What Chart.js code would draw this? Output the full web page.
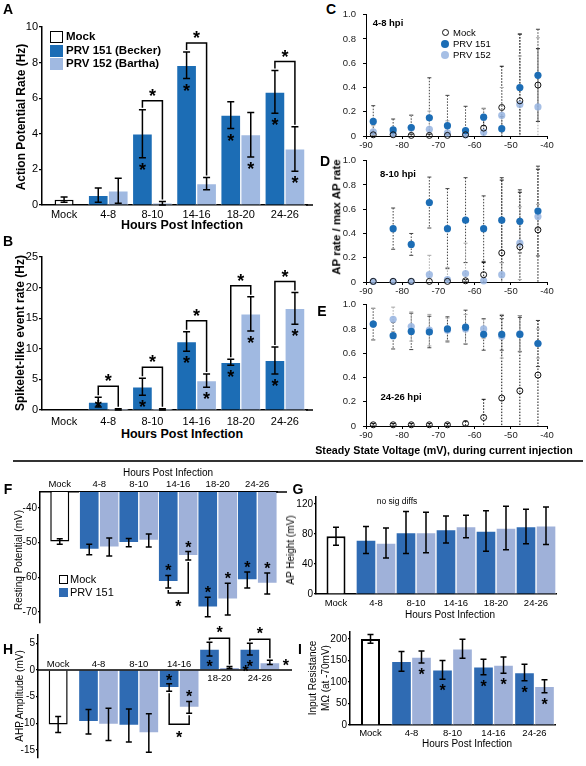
<!DOCTYPE html>
<html>
<head>
<meta charset="utf-8">
<script src="https://cdn.jsdelivr.net/npm/chart.js@4.4.1/dist/chart.umd.min.js"></script>
<style>
  body { margin: 0; background: #fff; }
  #fig { position: relative; width: 586px; height: 766px; overflow: hidden; font-family: 'Liberation Sans', Arial, sans-serif; color: #000; }
  #fig canvas { position: absolute; }
  .t { position: absolute; white-space: nowrap; line-height: 1; transform: translate(-50%, -50%); }
  .l { position: absolute; white-space: nowrap; line-height: 1; transform: translate(0, -50%); }
  .r { position: absolute; white-space: nowrap; line-height: 1; transform: translate(-50%, -50%) rotate(-90deg); text-align: center; }
  .sw { position: absolute; box-sizing: border-box; }
</style>
</head>
<body>
<div id="fig"></div>
<script>
// categories
const hpi = ['Mock', '4-8', '8-10', '14-16', '18-20', '24-26'];
const hpiI = ['Mock', '4-8', '8-10', '14-16', '24-26'];

// A: action potential rate (Hz)
const apMock = 0.3, apMockErr = 0.15;
const ap151 = [null, 0.55, 4.0, 7.85, 5.05, 6.35];
const ap151Err = [null, 0.4, 1.35, 0.75, 0.75, 1.2];
const ap152 = [null, 0.8, 0.1, 1.2, 3.95, 3.15];
const ap152Err = [null, 0.7, 0.1, 0.35, 1.25, 1.25];
const apStar151 = [0, 0, 1, 1, 1, 1];
const apStar152 = [0, 0, 0, 0, 1, 1];
const apSig = ['8-10', '14-16', '24-26'];
const apTicks = [0, 2, 4, 6, 8, 10];

// B: spikelet-like event rate (Hz)
const spMock = 0.05, spMockErr = 0;
const sp151 = [null, 1.3, 3.8, 11.2, 7.8, 8.1];
const sp151Err = [null, 0.8, 1.4, 1.6, 0.5, 2.2];
const sp152 = [null, 0.1, 0.1, 4.8, 15.7, 16.6];
const sp152Err = [null, 0.1, 0.1, 1.1, 2.8, 2.6];
const spStar151 = [0, 1, 1, 1, 1, 1];
const spStar152 = [0, 0, 0, 1, 1, 1];
const spSig = ['4-8', '8-10', '14-16', '18-20', '24-26'];
const spTicks = [0, 5, 10, 15, 20, 25];

// C-E: normalised AP rate vs steady state voltage
const volt = [-88, -82.5, -77.5, -72.5, -67.5, -62.5, -57.5, -52.5, -47.5, -42.5];
const voltTicks = [-90, -80, -70, -60, -50, -40];
const rateTicks = [0, 0.2, 0.4, 0.6, 0.8, 1];

const mockC = [0.01, 0.01, 0.005, 0.005, 0.005, 0.01, 0.065, 0.235, 0.29, 0.42];
const mockCErr = [0.01, 0.01, 0.01, 0.01, 0.01, 0.01, 0.1, 0.34, 0.55, 0.3];
const prv151C = [0.12, 0.05, 0.07, 0.15, 0.085, 0.045, 0.155, 0.06, 0.40, 0.50];
const prv151CErr = [0.13, 0.09, 0.1, 0.33, 0.25, 0.2, 0.07, 0.1, 0.44, 0.38];
const prv152C = [0.035, 0.02, 0.065, 0.055, 0.025, 0.01, 0.03, 0.17, 0.26, 0.24];
const prv152CErr = [0.05, 0.03, 0.11, 0.15, 0.1, 0.05, 0.2, 0.23, 0.4, 0.57];

const mockD = [0.005, 0.005, 0.005, 0.005, 0.005, 0.01, 0.06, 0.24, 0.29, 0.43];
const mockDErr = [0, 0, 0, 0, 0.01, 0.01, 0.1, 0.6, 0.45, 0.5];
const prv151D = [null, 0.44, 0.31, 0.655, 0.44, 0.51, 0.44, 0.51, 0.50, 0.585];
const prv151DErr = [null, 0.17, 0.09, 0.21, 0.33, 0.35, 0.27, 0.35, 0.26, 0.37];
const prv152D = [0.005, 0.005, 0.005, 0.06, 0.02, 0.07, 0.01, 0.06, 0.32, 0.54];
const prv152DErr = [0, 0, 0, 0.16, 0.1, 0.25, 0.03, 0.1, 0.3, 0.1];

const mockE = [0.01, 0.01, 0.01, 0.01, 0.01, 0.02, 0.07, 0.23, 0.29, 0.42];
const mockEErr = [0.01, 0.01, 0.01, 0.01, 0.01, 0.02, 0.15, 0.68, 0.62, 0.45];
const prv151E = [0.84, 0.745, 0.78, 0.775, 0.80, 0.815, 0.755, 0.755, 0.755, 0.68];
const prv151EErr = [0.13, 0.11, 0.15, 0.13, 0.1, 0.14, 0.13, 0.13, 0.14, 0.19];
const prv152E = [0.84, 0.88, 0.82, 0.79, 0.79, 0.80, 0.80, 0.74, 0.76, 0.68];
const prv152EErr = [0.13, 0.1, 0.12, 0.13, 0.1, 0.12, 0.08, 0.18, 0.15, 0.12];

// F: resting potential (mV)
const rpMock = -49.7, rpMockErr = 0.8;
const rp151 = [null, -52.0, -50.0, -61.3, -68.6, -60.8];
const rp151Err = [null, 1.5, 1.2, 1.8, 2.8, 2.3];
const rp152 = [null, -51.3, -49.4, -53.8, -66.3, -61.8];
const rp152Err = [null, 2.6, 1.9, 1.2, 4.6, 3.0];
const rpStar151 = [0, 0, 0, 1, 1, 1];
const rpStar152 = [0, 0, 0, 1, 1, 1];
const rpSig = ['14-16'];
const rpTicks = [-70, -60, -50, -40];

// G: AP height (mV)
const ahMock = 77, ahMockErr = 12;
const ah151 = [null, 72, 82, 86, 84, 90];
const ah151Err = [null, 18, 28, 18, 27, 23];
const ah152 = [null, 68, 82, 90, 88, 91];
const ah152Err = [null, 20, 27, 15, 29, 25];
const ahTicks = [0, 40, 80, 120];

// H: AHP amplitude (mV)
const ahpMock = -10.2, ahpMockErr = 1.5;
const ahp151 = [null, -9.7, -10.4, -3.3, 3.9, 3.9];
const ahp151Err = [null, 2.3, 3.1, 0.7, 1.3, 1.1];
const ahp152 = [null, -10.2, -11.8, -7.0, 0.45, 1.4];
const ahp152Err = [null, 3.0, 3.6, 1.1, 0.2, 0.4];
const ahpStar151 = [0, 0, 0, 1, 1, 1];
const ahpStar152 = [0, 0, 0, 1, 2, 2];
const ahpSig = ['14-16', '18-20', '24-26'];
const ahpTicks = [-15, -10, -5, 0, 5];

// I: input resistance (MOhm)
const irMock = 200, irMockErr = 10;
const ir151 = [null, 148, 128, 135, 122];
const ir151Err = [null, 23, 22, 18, 19];
const ir152 = [null, 158, 177, 139, 90];
const ir152Err = [null, 14, 22, 19, 15];
const irStar151 = [0, 0, 1, 1, 1];
const irStar152 = [0, 1, 0, 1, 1];
const irTicks = [0, 50, 100, 150, 200];

const FONT = "'Liberation Sans', Arial, sans-serif";
Chart.defaults.font.family = FONT;
Chart.defaults.color = '#000';
Chart.defaults.animation = false;

const fig = document.getElementById('fig');

function text(str, x, y, size, cls, bold) {
  const d = document.createElement('div');
  d.className = cls || 't';
  d.textContent = str;
  d.style.left = x + 'px';
  d.style.top = y + 'px';
  d.style.fontSize = size + 'px';
  if (bold) d.style.fontWeight = 'bold';
  fig.appendChild(d);
  return d;
}
function swatch(x, y, w, h, fill, border, round) {
  const d = document.createElement('div');
  d.className = 'sw';
  Object.assign(d.style, { left: x + 'px', top: y + 'px', width: w + 'px', height: h + 'px', background: fill });
  if (border) d.style.border = border;
  if (round) d.style.borderRadius = '50%';
  fig.appendChild(d);
}
function canvasAt(rect) {
  const c = document.createElement('canvas');
  c.width = rect[2] - rect[0];
  c.height = rect[3] - rect[1];
  c.style.left = rect[0] + 'px';
  c.style.top = rect[1] + 'px';
  c.style.width = c.width + 'px';
  c.style.height = c.height + 'px';
  fig.appendChild(c);
  return c;
}

function star(ctx, x, y, size) {
  ctx.font = 'bold ' + size + 'px ' + FONT;
  ctx.textAlign = 'center';
  ctx.textBaseline = 'alphabetic';
  ctx.fillText('*', x, y + size * 0.56);
}

// error bars, asterisks and significance brackets for the bar panels
const barMarks = {
  id: 'barMarks',
  afterDatasetsDraw(chart, args, o) {
    const ctx = chart.ctx, ys = chart.scales.y, ca = chart.chartArea;
    ctx.save();
    ctx.strokeStyle = '#000';
    ctx.fillStyle = '#000';
    ctx.lineWidth = 1.5;
    // the category axis runs a little past the last bar
    if (o.axisExt) {
      const ay = o.axisTop ? ca.top : ca.bottom;
      ctx.beginPath();
      ctx.moveTo(ca.right - 1, ay); ctx.lineTo(ca.right + o.axisExt, ay);
      ctx.stroke();
    }
    chart.data.datasets.forEach((ds, di) => {
      const meta = chart.getDatasetMeta(di);
      const base = ds.base ?? 0;
      meta.data.forEach((el, i) => {
        const v = ds.data[i];
        if (v == null) return;
        const e = ds.err ? ds.err[i] : 0;
        if (e) {
          const hi = ys.getPixelForValue(v + e), lo = ys.getPixelForValue(v - e);
          ctx.beginPath();
          ctx.moveTo(el.x, hi); ctx.lineTo(el.x, lo);
          ctx.moveTo(el.x - o.cap, hi); ctx.lineTo(el.x + o.cap, hi);
          ctx.moveTo(el.x - o.cap, lo); ctx.lineTo(el.x + o.cap, lo);
          ctx.stroke();
        }
        const s = ds.stars ? ds.stars[i] : 0;
        if (s) {
          const bp = ys.getPixelForValue(base);
          let sx = el.x, sy;
          if (s === 2) {
            sx = el.x + el.width / 2 + 6;
            sy = ys.getPixelForValue(v);
          } else if (v >= base) {
            sy = Math.min(ys.getPixelForValue(v - (e || 0)) + o.starGap, bp - 7);
          } else {
            sy = Math.max(ys.getPixelForValue(v + (e || 0)) - o.starGap, bp + 7);
          }
          star(ctx, sx, sy, o.starSize);
        }
      });
    });
    (o.sig || []).forEach(cat => {
      const i = chart.data.labels.indexOf(cat);
      const d1 = chart.data.datasets[1], d2 = chart.data.datasets[2];
      const a = chart.getDatasetMeta(1).data[i], b = chart.getDatasetMeta(2).data[i];
      const base = d1.base ?? 0;
      const up = d1.data[i] >= base;
      const end = ds => ys.getPixelForValue(up ? ds.data[i] + (ds.err[i] || 0) : ds.data[i] - (ds.err[i] || 0));
      const y1 = end(d1), y2 = end(d2);
      ctx.beginPath();
      if (up) {
        const top = Math.min(y1, y2) - o.gap;
        ctx.moveTo(a.x, y1 - 2); ctx.lineTo(a.x, top); ctx.lineTo(b.x, top); ctx.lineTo(b.x, y2 - 2);
        ctx.stroke();
        star(ctx, (a.x + b.x) / 2, top - 9, o.starSize);
      } else {
        const bot = Math.max(y1, y2) + o.gapDown;
        ctx.moveTo(a.x, y1 + 2); ctx.lineTo(a.x, bot); ctx.lineTo(b.x, bot); ctx.lineTo(b.x, y2 + 2);
        ctx.stroke();
        star(ctx, (a.x + b.x) / 2, bot + 10, o.starSize);
      }
    });
    // zero axis with category names on the side away from the bars (panel H)
    if (o.zeroAxis) {
      const xs = chart.scales.x, z = ys.getPixelForValue(0);
      ctx.lineWidth = 1.5;
      ctx.beginPath();
      ctx.moveTo(ca.left, z); ctx.lineTo(ca.right + 12, z);
      ctx.stroke();
      ctx.font = o.labelSize + 'px ' + FONT;
      ctx.textAlign = 'center';
      ctx.textBaseline = 'middle';
      chart.data.labels.forEach((lab, i) => {
        const vals = chart.data.datasets.map(ds => ds.data[i]).filter(v => v != null);
        const pos = Math.max(...vals) > 0;
        ctx.fillText(lab, xs.getPixelForValue(i), pos ? z + 8 : z - 6);
      });
    }
    ctx.restore();
  }
};

function barPanel(p) {
  const c = canvasAt(p.rect);
  const [rl, rt, rr, rb] = p.rect, [al, at, ar, ab] = p.area;
  const xPos = p.xPos || 'bottom';
  const base = p.base ?? 0;
  new Chart(c, {
    type: 'bar',
    data: {
      labels: p.cats,
      datasets: [
        { label: 'Mock', data: p.cats.map((_, i) => i === 0 ? p.mock : null), err: p.cats.map((_, i) => i === 0 ? p.mockErr : null),
          grouped: false, maxBarThickness: p.thick - 1, backgroundColor: '#fff', borderColor: '#000', borderWidth: p.mockBorder, base: base },
        { label: 'PRV 151', data: p.s151, err: p.e151, stars: p.star151, barThickness: p.thick,
          backgroundColor: p.dark, borderColor: '#fff', borderWidth: 1, base: base },
        { label: 'PRV 152', data: p.s152, err: p.e152, stars: p.star152, barThickness: p.thick,
          backgroundColor: p.light, borderColor: '#fff', borderWidth: 1, base: base }
      ]
    },
    options: {
      responsive: false,
      devicePixelRatio: 1,
      layout: { padding: { left: 0, right: rr - ar, top: xPos === 'top' ? 0 : at - rt, bottom: xPos === 'bottom' ? 0 : rb - ab } },
      plugins: {
        legend: { display: false },
        tooltip: { enabled: false },
        barMarks: { cap: p.cap || 3, starSize: p.starSize, starGap: p.starGap || 8, gap: p.gap || 9, gapDown: p.gapDown || 6, sig: p.sig,
          zeroAxis: xPos === 'none', labelSize: p.xFont, axisExt: p.axisExt || 0, axisTop: xPos === 'top' }
      },
      scales: {
        x: {
          display: xPos !== 'none',
          position: xPos === 'top' ? 'top' : 'bottom',
          grid: { display: false, drawTicks: false, tickLength: 0 },
          border: { display: true, color: '#000', width: 1.5 },
          ticks: { font: { size: p.xFont }, padding: p.xPad, maxRotation: 0, autoSkip: false },
          afterFit: s => { s.height = xPos === 'top' ? at - rt : rb - ab; }
        },
        y: {
          min: p.yMin, max: p.yMax,
          grid: { drawOnChartArea: false, color: '#000', tickLength: p.tickLen ?? 3, lineWidth: 1.2 },
          border: { color: '#000', width: 1.5 },
          ticks: { font: { size: p.yFont }, padding: p.yPad ?? 2 },
          afterBuildTicks: s => { s.ticks = p.yTicks.map(v => ({ value: v })); },
          afterFit: s => { s.width = al - rl; }
        }
      }
    },
    plugins: [barMarks]
  });
}

// dotted error bars drawn under the scatter points
const dotErr = {
  id: 'dotErr',
  beforeDatasetsDraw(chart) {
    const ctx = chart.ctx, ys = chart.scales.y, ca = chart.chartArea;
    ctx.save();
    ctx.beginPath();
    ctx.rect(ca.left, ca.top - 4, ca.right - ca.left, ca.bottom - ca.top + 4);
    ctx.clip();
    chart.data.datasets.forEach((ds, di) => {
      const meta = chart.getDatasetMeta(di);
      ctx.strokeStyle = ds.errColor;
      ctx.lineWidth = 1;
      meta.data.forEach((el, i) => {
        const e = ds.err[i];
        if (!e) return;
        const v = ds.data[i].y;
        const hi = ys.getPixelForValue(v + e), lo = ys.getPixelForValue(v - e);
        ctx.setLineDash([1.5, 1.5]);
        ctx.beginPath(); ctx.moveTo(el.x, hi); ctx.lineTo(el.x, lo); ctx.stroke();
        ctx.setLineDash([]);
        ctx.beginPath();
        ctx.moveTo(el.x - 2, hi); ctx.lineTo(el.x + 2, hi);
        ctx.moveTo(el.x - 2, lo); ctx.lineTo(el.x + 2, lo);
        ctx.stroke();
      });
    });
    ctx.restore();
  }
};

function series(ys, errs) {
  const data = [], err = [];
  volt.forEach((x, i) => {
    if (ys[i] == null) return;
    data.push({ x: x, y: ys[i] });
    err.push(errs[i]);
  });
  return { data, err };
}

function scatterPanel(p) {
  const c = canvasAt(p.rect);
  const [rl, rt, rr, rb] = p.rect, [al, at, ar, ab] = p.area;
  const m = series(p.mock, p.eMock), a = series(p.s151, p.e151), b = series(p.s152, p.e152);
  new Chart(c, {
    type: 'scatter',
    data: {
      datasets: [
        { label: 'Mock', data: m.data, err: m.err, errColor: '#111', pointRadius: 3, pointBackgroundColor: 'rgba(255,255,255,0)', pointBorderColor: '#111', pointBorderWidth: 1, clip: false },
        { label: 'PRV 151', data: a.data, err: a.err, errColor: '#444', pointRadius: 3.6, pointBackgroundColor: '#1c6db5', pointBorderColor: '#1c6db5', pointBorderWidth: 0, clip: false },
        { label: 'PRV 152', data: b.data, err: b.err, errColor: '#a8a8a8', pointRadius: 3.6, pointBackgroundColor: 'rgba(150,180,225,0.85)', pointBorderColor: 'rgba(150,180,225,0.85)', pointBorderWidth: 0, clip: false }
      ]
    },
    options: {
      responsive: false,
      devicePixelRatio: 1,
      layout: { padding: { left: 0, right: rr - ar, top: at - rt, bottom: 0 } },
      plugins: { legend: { display: false }, tooltip: { enabled: false } },
      scales: {
        x: {
          type: 'linear', min: -90, max: -40,
          grid: { drawOnChartArea: false, color: '#000', tickLength: 3 },
          border: { color: '#000', width: 1 },
          ticks: { font: { size: 9.5 }, padding: 1, color: '#222' },
          afterBuildTicks: s => { s.ticks = voltTicks.map(v => ({ value: v })); },
          afterFit: s => { s.height = rb - ab; }
        },
        y: {
          min: 0, max: 1,
          grid: { drawOnChartArea: false, color: '#000', tickLength: 3 },
          border: { color: '#000', width: 1 },
          ticks: { font: { size: 9.5 }, padding: 7, color: '#222' },
          afterBuildTicks: s => { s.ticks = rateTicks.map(v => ({ value: v })); },
          afterFit: s => { s.width = al - rl; }
        }
      }
    },
    plugins: [dotErr]
  });
}

const darkAB = '#1c6db5', lightAB = '#a0b9e1';
const darkFI = '#2f6bb3', lightFI = '#9fb1d9';

// ---- A
barPanel({ rect: [10, 15, 316, 220], area: [42, 27, 307, 205], cats: hpi,
  mock: apMock, mockErr: apMockErr, s151: ap151, e151: ap151Err, s152: ap152, e152: ap152Err,
  star151: apStar151, star152: apStar152, sig: apSig, yMin: 0, yMax: 10, yTicks: apTicks,
  dark: darkAB, light: lightAB, thick: 20, mockBorder: 1.5, xFont: 11, yFont: 11, xPad: 3, yPad: 1,
  starSize: 18, cap: 3.5, gap: 9, axisExt: 6 });
// ---- B
barPanel({ rect: [10, 240, 316, 426], area: [42, 257, 307, 410], cats: hpi,
  mock: spMock, mockErr: spMockErr, s151: sp151, e151: sp151Err, s152: sp152, e152: sp152Err,
  star151: spStar151, star152: spStar152, sig: spSig, yMin: 0, yMax: 25, yTicks: spTicks,
  dark: darkAB, light: lightAB, thick: 20, mockBorder: 1.5, xFont: 11, yFont: 11, xPad: 5, yPad: 1,
  starSize: 18, cap: 3.5, gap: 11, axisExt: 6 });
// ---- C, D, E
scatterPanel({ rect: [340, 2, 556, 150], area: [366, 9, 547, 136],
  mock: mockC, eMock: mockCErr, s151: prv151C, e151: prv151CErr, s152: prv152C, e152: prv152CErr });
scatterPanel({ rect: [340, 148, 556, 296], area: [366, 155, 547, 282],
  mock: mockD, eMock: mockDErr, s151: prv151D, e151: prv151DErr, s152: prv152D, e152: prv152DErr });
scatterPanel({ rect: [340, 292, 556, 441], area: [366, 299, 547, 426],
  mock: mockE, eMock: mockEErr, s151: prv151E, e151: prv151EErr, s152: prv152E, e152: prv152EErr });
// ---- F
barPanel({ rect: [12, 476, 292, 630], area: [40, 492, 277, 623], cats: hpi, xPos: 'top', base: -35.4,
  mock: rpMock, mockErr: rpMockErr, s151: rp151, e151: rp151Err, s152: rp152, e152: rp152Err,
  star151: rpStar151, star152: rpStar152, sig: rpSig, yMin: -73.2, yMax: -35.4, yTicks: rpTicks,
  dark: darkFI, light: lightFI, thick: 20, mockBorder: 1.5, xFont: 9.5, yFont: 10, xPad: 2, yPad: 1, tickLen: 2,
  starSize: 16, cap: 3, gapDown: 5, axisExt: 10 });
// ---- G
barPanel({ rect: [296, 490, 565, 610], area: [316, 497, 556, 594], cats: hpi,
  mock: ahMock, mockErr: ahMockErr, s151: ah151, e151: ah151Err, s152: ah152, e152: ah152Err,
  star151: null, star152: null, sig: [], yMin: 0, yMax: 129.3, yTicks: ahTicks,
  dark: darkFI, light: lightFI, thick: 20, mockBorder: 2, xFont: 9.5, yFont: 10, xPad: 4, yPad: 1, tickLen: 2,
  starSize: 16, cap: 3 });
// ---- H
barPanel({ rect: [12, 620, 296, 766], area: [38, 635, 280, 762], cats: hpi, xPos: 'none',
  mock: ahpMock, mockErr: ahpMockErr, s151: ahp151, e151: ahp151Err, s152: ahp152, e152: ahp152Err,
  star151: ahpStar151, star152: ahpStar152, sig: ahpSig, yMin: -16.5, yMax: 6.55, yTicks: ahpTicks,
  dark: darkFI, light: lightFI, thick: 20, mockBorder: 1.5, xFont: 9.5, yFont: 10, xPad: 2, yPad: 1, tickLen: 2,
  starSize: 16, cap: 3, gap: 4, gapDown: 11 });
// ---- I
barPanel({ rect: [330, 620, 565, 740], area: [350, 632, 555, 725], cats: hpiI,
  mock: irMock, mockErr: irMockErr, s151: ir151, e151: ir151Err, s152: ir152, e152: ir152Err,
  star151: irStar151, star152: irStar152, sig: [], yMin: 0, yMax: 216, yTicks: irTicks,
  dark: darkFI, light: lightFI, thick: 20, mockBorder: 2, xFont: 9.5, yFont: 10, xPad: 3, yPad: 1, tickLen: 2,
  starSize: 16, cap: 3 });

// ---- text
text('A', 8, 9, 14, 't', true);
text('Action Potential Rate (Hz)', 21, 117, 12, 'r', true);
text('Hours Post Infection', 182, 225, 12.5, 't', true);
swatch(50, 31, 13, 12, '#fff', '1.5px solid #000');
swatch(50, 45, 13, 12, darkAB);
swatch(50, 58, 13, 12, lightAB);
text('Mock', 66, 37, 11.5, 'l', true);
text('PRV 151 (Becker)', 66, 51, 11.5, 'l', true);
text('PRV 152 (Bartha)', 66, 64, 11.5, 'l', true);

text('B', 8, 241, 14, 't', true);
text('Spikelet-like event rate (Hz)', 20, 333, 12, 'r', true);
text('Hours Post Infection', 182, 434, 12.5, 't', true);

text('C', 331, 9, 14, 't', true);
text('D', 325, 161, 14, 't', true);
text('E', 322, 311, 14, 't', true);
text('4-8 hpi', 388, 23, 9.5, 't', true);
text('8-10 hpi', 398, 174, 9.5, 't', true);
text('24-26 hpi', 401, 397, 9.5, 't', true);
swatch(442, 29, 7, 7, '#fff', '1px solid #111', true);
swatch(441, 40, 8, 8, '#1c6db5', null, true);
swatch(441, 51, 8, 8, 'rgba(150,180,225,0.85)', null, true);
text('Mock', 453, 33, 9.5, 'l');
text('PRV 151', 453, 44, 9.5, 'l');
text('PRV 152', 453, 55, 9.5, 'l');
text('AP rate / max AP rate', 337, 217, 11.5, 'r', true);
text('Steady State Voltage (mV), during current injection', 444, 450, 10.7, 't', true);

swatch(13, 460, 570, 1.5, '#333');

text('F', 8, 489, 14, 't', true);
text('Hours Post Infection', 168, 473, 10, 't');
text('Resting Potential (mV)', 19, 560, 10, 'r');
swatch(59, 575, 9, 9, '#fff', '1px solid #000');
swatch(59, 588, 9, 9, darkFI);
text('Mock', 70, 579, 11, 'l');
text('PRV 151', 70, 592, 11, 'l');

text('G', 298, 489, 14, 't', true);
text('AP Height (mV)', 291, 550, 10, 'r');
text('no sig diffs', 397, 501, 8.5, 't');
text('Hours Post Infection', 450, 615, 10, 't');

text('H', 8, 649, 14, 't', true);
text('AHP Amplitude (mV)', 20, 696, 10, 'r');

text('I', 300, 649, 14, 't', true);
text('Input Resistance', 313, 678, 10, 'r');
text('M\u03A9 (at -70mV)', 326, 678, 10, 'r');
text('Hours Post Infection', 467, 744, 10, 't');
</script>
</body>
</html>
